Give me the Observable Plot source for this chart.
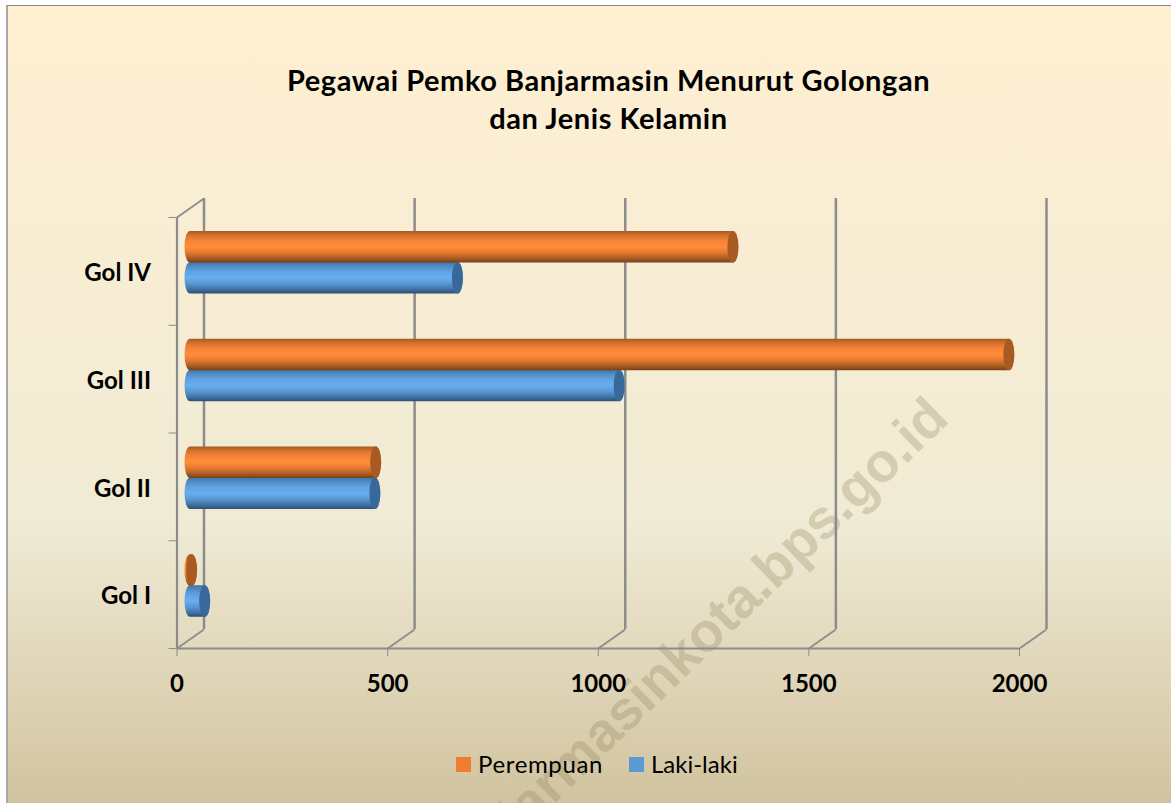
<!DOCTYPE html>
<html>
<head>
<meta charset="utf-8">
<script src="https://cdn.jsdelivr.net/npm/d3@7"></script>
<script src="https://cdn.jsdelivr.net/npm/@observablehq/plot@0.6"></script>
<style>
  html, body { margin: 0; padding: 0; background: #fff; }
  #page { position: relative; width: 1171px; height: 803px; overflow: hidden; }
  #bg { position: absolute; left: 6px; top: 5px; right: 0; bottom: 0; box-sizing: border-box;
        border-left: 2px solid #a8a8a8; border-top: 1px solid #858585;
        background: linear-gradient(180deg, #FFEFD1 0%, #F0EBD5 65%, #D1C39F 100%); }
  #chart { position: absolute; left: 0; top: 0; }
  #title { position: absolute; left: 0; width: 1217px; top: 61px; text-align: center;
           font: 700 29px/38px Lato, sans-serif; letter-spacing: 0.55px; color: #000; }
  #legend { position: absolute; top: 749px; left: 456px; height: 30px; font: 400 24px/30px Lato, sans-serif; color: #000; }
  #legend span { position: absolute; white-space: nowrap; top: 0; }
  #legend i { position: absolute; top: 8px; width: 15px; height: 15px; }
</style>
</head>
<body>
<div id="page">
  <div id="bg"></div>
  <div id="chart"></div>
  <div id="title">Pegawai Pemko Banjarmasin Menurut Golongan<br>dan Jenis Kelamin</div>
  <div id="legend">
    <i style="left:0;background:#ED7D31"></i><span style="left:22px;letter-spacing:0.65px">Perempuan</span>
    <i style="left:173px;background:#5B9BD5"></i><span style="left:195px">Laki-laki</span>
  </div>
</div>
<script>
const categories = ["Gol I", "Gol II", "Gol III", "Gol IV"];
const perempuan = [5, 442, 1945, 1290];
const lakiLaki = [36, 440, 1020, 636];
const xTicks = [0, 500, 1000, 1500, 2000];
const yEdges = [0, 1, 2, 3, 4];
const watermark = "banjarmasinkota.bps.go.id";

const rows = categories.map((c, i) => ({c, i, p: perempuan[i], l: lakiLaki[i]}));
const wallColor = "#8c8c8c";
// Depth of the 3-D box, in data units of each axis
const depthX = 64, depthY = 0.176;
const barDx = 13;

const defs = () => {
  const d = d3.create("svg:defs");
  const grad = (id, stops) => {
    const g = d.append("linearGradient").attr("id", id).attr("x1", 0).attr("y1", 0).attr("x2", 0).attr("y2", 1);
    stops.forEach(([o, c]) => g.append("stop").attr("offset", o).attr("stop-color", c));
  };
  grad("cylOrange", [[0, "#a55a22"], [0.12, "#cf6f2c"], [0.3, "#f58336"], [0.5, "#ff8d38"], [0.68, "#e67a30"], [0.88, "#a55a22"], [1, "#74401a"]]);
  grad("cylBlue", [[0, "#3f74a6"], [0.12, "#4f89c0"], [0.3, "#5fa3e2"], [0.5, "#67aef0"], [0.68, "#5a98d4"], [0.88, "#3f6f9f"], [1, "#2c4f72"]]);
  return d.node();
};

const cylinder = (key, y0, fill, cap) => [
  Plot.rect(rows, {x1: 0, x2: key, y1: "i", y2: d => d.i + 1,
    insetTop: y0, insetBottom: 107.75 - y0 - 31.5, insetLeft: -5, insetRight: -5.5,
    rx: 5.5, ry: 15.75, dx: barDx, fill}),
  Plot.rect(rows, {x1: key, x2: key, y1: "i", y2: d => d.i + 1,
    insetTop: y0, insetBottom: 107.75 - y0 - 31.5, insetLeft: -5.5, insetRight: -5.5,
    rx: 5.5, ry: 15.75, dx: barDx, fill: cap})
];

const plot = Plot.plot({
  width: 1171,
  height: 803,
  marginLeft: 176.5,
  marginRight: 152,
  marginTop: 217,
  marginBottom: 155,
  style: {background: "transparent", color: "#000", fontFamily: "Lato, sans-serif"},
  x: {domain: [0, 2000]},
  y: {domain: [0, 4]},
  marks: [
    defs,
    Plot.text([watermark], {text: d => d, x: () => 1808, y: () => 2.23,
      rotate: -44, textAnchor: "end", lineAnchor: "middle", fontSize: 55, fontWeight: 700,
      fontFamily: "Liberation Sans, sans-serif", fill: "#8a7a50", fillOpacity: 0.27}),
    // Back wall uprights
    Plot.ruleX(xTicks, {x: d => d, y1: 0, y2: 4, dx: 27, dy: -19, stroke: wallColor, strokeWidth: 2.5}),
    // Depth lines on the floor and at the top of the side wall
    Plot.link(xTicks, {x1: d => d, x2: d => d + depthX, y1: 0, y2: depthY, stroke: wallColor, strokeWidth: 1.8}),
    Plot.link([0], {x1: d => d, x2: d => d + depthX, y1: 4, y2: 4 + depthY, stroke: wallColor, strokeWidth: 1.8}),
    // Front edges
    Plot.ruleX([0], {y1: 0, y2: 4, stroke: wallColor, strokeWidth: 2.2}),
    Plot.ruleY([0], {x1: 0, x2: 2000, stroke: wallColor, strokeWidth: 2.2}),
    // Axes
    Plot.axisX({ticks: xTicks, tickSize: 8, tickPadding: 18, label: null, tickFormat: d => String(d),
      fontSize: 24, fontWeight: 700, fontFamily: "Lato, sans-serif", stroke: wallColor}),
    Plot.axisY({ticks: yEdges, tickSize: 8, label: null, tickFormat: () => "", stroke: wallColor}),
    Plot.axisY({ticks: categories.map((_, i) => i + 0.5), tickSize: 0, tickPadding: 26, dy: 2, label: null,
      tickFormat: d => categories[Math.floor(d)], fontSize: 24, fontWeight: 700, fontFamily: "Lato, sans-serif"}),
    // Cylinders
    ...cylinder("l", 45, "url(#cylBlue)", "#38699a"),
    ...cylinder("p", 14, "url(#cylOrange)", "#a85a22")
  ]
});
document.getElementById("chart").appendChild(plot);
</script>
</body>
</html>
